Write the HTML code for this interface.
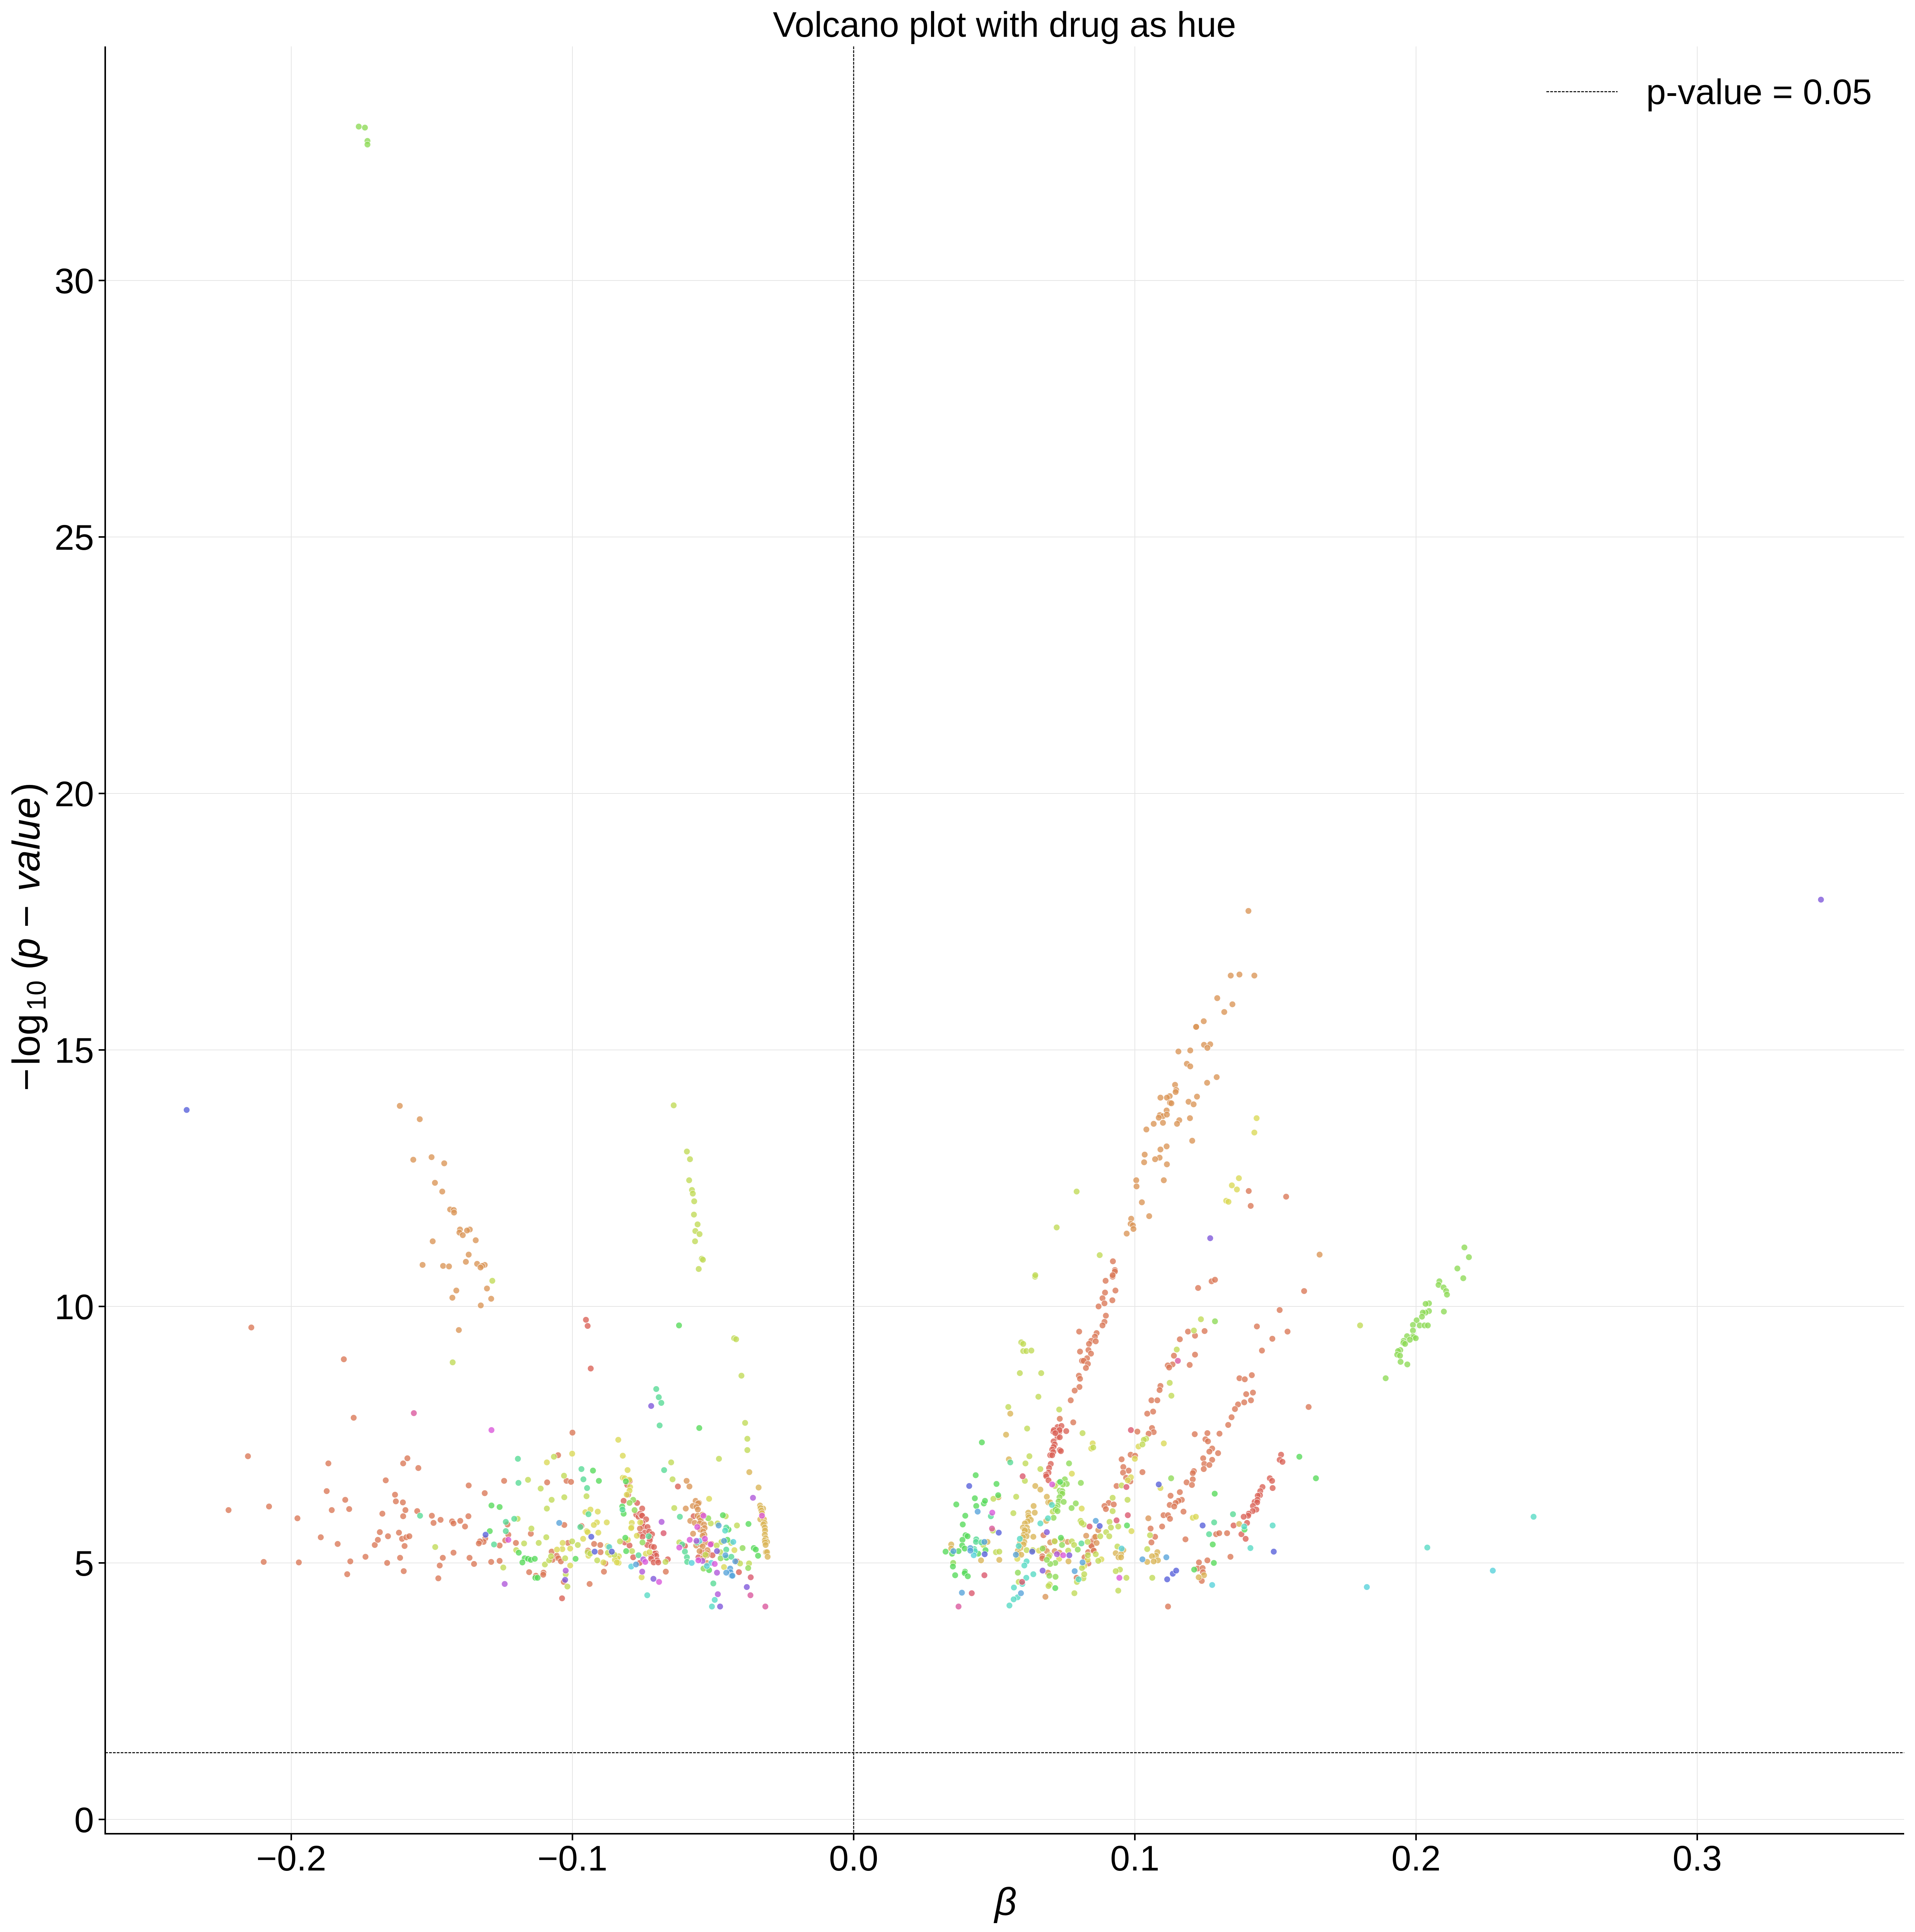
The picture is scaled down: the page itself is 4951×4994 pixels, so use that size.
<!DOCTYPE html>
<html lang="en">
<head>
<meta charset="utf-8">
<title>Volcano plot with drug as hue</title>
<style>
html,body{margin:0;padding:0;background:#fff;}
svg{display:block;font-family:"Liberation Sans",Arial,sans-serif;}
</style>
</head>
<body>
<svg id="chart" xmlns="http://www.w3.org/2000/svg" width="4951" height="4994" viewBox="0 0 4951 4994">
<rect x="0" y="0" width="4951" height="4994" fill="#ffffff"/>
<g id="grid"></g>
<g id="refs"></g>
<g id="points"></g>
<g id="axes"></g>
<text x="2597" y="95" font-size="91.67" text-anchor="middle" fill="#000">Volcano plot with drug as hue</text>
<text x="2600" y="4950" font-size="100" font-style="italic" text-anchor="middle" fill="#000">β</text>
<text transform="translate(102,2822) rotate(-90)" font-size="100" fill="#000"><tspan x="2">−</tspan><tspan x="68">log</tspan><tspan x="210" dy="16" font-size="70">10</tspan><tspan x="315" dy="-16">(</tspan><tspan x="342" font-style="italic">p</tspan><tspan x="424">−</tspan><tspan x="518" font-style="italic" letter-spacing="1">value</tspan><tspan x="766">)</tspan></text>
<g>
<line x1="3998" x2="4182" y1="237" y2="237" stroke="#000" stroke-width="2.5" stroke-dasharray="7 3"/>
<text x="4256" y="269" font-size="91.67" fill="#000">p-value = 0.05</text>
</g>
</svg>
<script>
const xTicks = [-0.2, -0.1, 0.0, 0.1, 0.2, 0.3];
const xTickLabels = ["−0.2", "−0.1", "0.0", "0.1", "0.2", "0.3"];
const yTicks = [0, 5, 10, 15, 20, 25, 30];
const yTickLabels = ["0", "5", "10", "15", "20", "25", "30"];
const pThreshold = 1.30103;
const betaZero = 0;

const drugRed = [[-.0952,9.74],[-.0946,9.62],[-.0935,8.79],[-.1037,4.31],[-.0805,6.52],[-.0796,6.60],[-.0802,6.33],[-.0818,6.21],[-.0770,6.17],[-.0752,6.06],[-.0773,5.94],[-.0765,5.90],[-.0759,5.96],[-.0755,5.93],[-.0752,5.92],[-.0738,5.85],[-.0751,5.78],[-.0748,5.71],[-.0733,5.70],[-.0743,5.59],[-.0727,5.61],[-.0717,5.56],[-.0760,5.56],[-.0751,5.51],[-.0723,5.49],[-.0725,5.44],[-.0734,5.35],[-.0719,5.32],[-.0710,5.31],[-.0814,5.40],[-.0797,5.34],[-.0784,5.11],[-.0704,5.19],[-.0708,5.18],[-.0702,5.14],[-.0720,5.13],[-.0720,5.08],[-.0699,5.05],[-.0711,5.01],[-.0695,5.01],[-.0661,5.07],[-.0761,5.00],[-.0625,6.49],[-.0569,5.91],[-.0538,5.21],[-.0517,5.20],[-.0502,5.15],[-.0552,5.11],[-.0600,5.33],[-.0506,5.37],[-.0415,5.03],[-.0408,4.82],[.0710,7.56],[.0722,7.54],[.0732,7.56],[.0725,7.45],[.0733,7.45],[.0711,7.37],[.0715,7.31],[.0711,7.26],[.0706,7.21],[.0710,7.16],[.0733,7.20],[.0737,7.18],[.0699,7.10],[.0706,7.10],[.0701,6.93],[.0695,6.85],[.0693,6.76],[.0684,6.72],[.0685,6.69],[.0693,6.61],[.0725,7.65],[.0739,7.67],[.0712,7.59],[.0732,7.59],[.0756,7.57],[.0717,7.53],[.1480,6.65],[.1488,6.60],[.1490,6.46],[.1454,6.48],[.1446,6.40],[.1445,6.32],[.1437,6.31],[.1426,6.19],[.1436,6.23],[.1435,6.18],[.1420,6.11],[.1432,6.04],[.1419,6.01],[.1405,5.96],[.1403,5.92],[.1387,5.90],[.1399,5.78],[.1351,5.73],[.1379,5.56],[.1394,5.47],[.1520,7.11],[.1515,7.01],[.1525,6.97]];

const drugSalmon = [[-.2142,9.59],[-.1813,8.97],[-.1778,7.83],[-.2154,7.08],[-.1868,6.94],[-.1874,6.40],[-.1808,6.23],[-.1856,6.03],[-.1794,6.05],[-.2079,6.10],[-.2223,6.03],[-.1978,5.87],[-.1895,5.50],[-.1835,5.37],[-.2098,5.02],[-.1973,5.01],[-.1790,5.03],[-.1801,4.78],[-.1736,5.12],[-.1703,5.35],[-.1692,5.45],[-.1685,5.60],[-.1656,5.52],[-.1617,5.59],[-.1606,5.47],[-.1591,5.50],[-.1580,5.52],[-.1597,5.33],[-.1613,5.10],[-.1659,5.00],[-.1600,4.84],[-.1676,5.96],[-.1602,5.91],[-.1594,6.03],[-.1552,6.01],[-.1603,6.18],[-.1628,6.20],[-.1631,6.33],[-.1664,6.61],[-.1602,6.94],[-.1587,7.04],[-.1548,6.85],[-.1500,5.92],[-.1494,5.78],[-.1469,5.84],[-.1428,5.81],[-.1423,5.77],[-.1399,5.82],[-.1382,5.71],[-.1370,5.91],[-.1369,6.51],[-.1312,6.36],[-.1243,6.60],[-.1423,5.20],[-.1461,5.10],[-.1472,4.95],[-.1477,4.70],[-.1366,5.10],[-.1350,4.98],[-.1289,5.02],[-.1259,5.04],[-.1310,5.48],[-.1316,5.41],[-.1329,5.42],[-.1333,5.38],[-.1259,5.34],[-.1231,5.75],[-.1228,5.55],[-.1239,5.44],[-.1201,5.39],[-.1090,6.57],[-.1021,6.60],[-.1005,6.58],[-.1029,5.74],[-.1148,5.57],[-.1074,5.22],[-.1071,5.06],[-.1056,5.14],[-.1050,5.09],[-.1041,5.03],[-.1016,5.39],[-.1154,4.82],[-.1130,4.75],[-.1103,4.81],[-.1104,4.77],[-.1031,4.63],[-.1000,7.54],[-.1051,7.10],[-.0968,5.72],[-.0923,5.37],[-.0901,5.35],[-.0900,5.21],[-.0945,5.24],[-.0883,4.99],[-.0888,4.83],[-.0939,4.59],[-.0760,5.67],[-.0668,4.83],[.0793,4.71],[.0821,5.11],[.0834,5.21],[.0835,4.99],[.0852,5.24],[.0845,5.34],[.0850,5.43],[.0857,5.50],[.0846,5.33],[.0854,5.24],[.0896,10.50],[.0921,10.58],[.0931,10.31],[.0894,10.27],[.0885,10.16],[.0920,10.12],[.0892,10.06],[.0871,10.00],[.0897,9.82],[.0892,9.70],[.0885,9.63],[.0802,9.51],[.0864,9.48],[.0858,9.41],[.0845,9.33],[.0861,9.32],[.0837,9.27],[.0835,9.15],[.0805,9.12],[.0844,9.08],[.0830,8.99],[.0812,8.94],[.0818,8.94],[.0833,8.88],[.0826,8.80],[.0801,8.65],[.0805,8.59],[.0803,8.43],[.0786,8.36],[.0772,8.17],[.0733,7.81],[.0781,7.74],[.1225,10.36],[.1273,10.49],[.1285,10.52],[.1602,10.30],[.1515,9.93],[.1434,9.61],[.1543,9.51],[.1489,9.37],[.1452,9.14],[.1189,9.51],[.1248,9.52],[.1214,9.43],[.1160,9.36],[.1139,9.04],[.1214,9.06],[.1134,8.87],[.1117,8.85],[.1122,8.81],[.1195,8.86],[.1091,8.45],[.1088,8.37],[.1059,8.17],[.1080,8.17],[.1065,7.95],[.1044,7.91],[.1061,7.63],[.1067,7.55],[.1049,7.52],[.1009,7.56],[.0985,7.11],[.1001,7.09],[.0953,7.02],[.0959,6.87],[.0978,6.80],[.0958,6.76],[.1027,6.77],[.0969,6.66],[.0984,6.59],[.0935,6.50],[.0907,6.17],[.0892,6.11],[.0925,6.14],[.0897,6.05],[.1056,5.67],[.1097,5.71],[.1072,5.51],[.1059,5.40],[.1118,4.15],[.1416,8.66],[.1372,8.60],[.1391,8.58],[.1396,8.29],[.1420,8.32],[.1413,8.17],[.1389,8.13],[.1367,8.09],[.1356,8.00],[.1344,7.84],[.1332,7.69],[.1301,7.52],[.1258,7.53],[.1213,7.51],[.1251,7.41],[.1260,7.37],[.1275,7.23],[.1265,7.17],[.1296,7.14],[.1243,7.04],[.1275,7.01],[.1247,6.93],[.1265,6.91],[.1245,6.83],[.1210,6.79],[.1206,6.75],[.1206,6.63],[.1184,6.57],[.1203,6.52],[.1160,6.38],[.1127,6.31],[.1167,6.23],[.1155,6.21],[.1145,6.17],[.1124,6.13],[.1140,6.10],[.1173,6.00],[.1102,5.93],[.1118,5.93],[.1125,5.86],[.1180,5.46],[.1289,5.56],[.1300,5.58],[.1328,5.58],[.1340,5.12],[.1228,5.01],[.1258,5.05],[.1223,4.89],[.1241,4.90],[.1242,4.82],[.1238,4.65],[.1618,8.04],[.0675,5.54],[.0671,5.13],[.0671,5.09],[.1405,12.25],[.1538,12.14],[.1412,11.96],[.0922,10.88],[.0929,10.71],[.0929,10.68],[.0921,10.61]];

const drugOrange = [[-.1614,13.91],[-.1543,13.65],[-.1566,12.86],[-.1501,12.91],[-.1456,12.79],[-.1489,12.41],[-.1463,12.24],[-.1435,11.89],[-.1422,11.88],[-.1421,11.83],[-.1400,11.50],[-.1365,11.50],[-.1375,11.48],[-.1402,11.44],[-.1390,11.39],[-.1344,11.29],[-.1497,11.27],[-.1369,11.01],[-.1379,10.87],[-.1533,10.81],[-.1460,10.79],[-.1439,10.78],[-.1339,10.83],[-.1312,10.81],[-.1321,10.79],[-.1327,10.76],[-.1304,10.35],[-.1413,10.31],[-.1427,10.17],[-.1289,10.15],[-.1326,10.02],[-.1404,9.54],[-.0594,6.60],[-.0584,6.49],[-.0597,6.06],[-.0562,6.21],[-.0550,6.17],[-.0553,6.16],[-.0572,6.11],[-.0559,6.09],[-.0554,6.04],[-.0555,5.92],[-.0538,5.94],[-.0548,5.88],[-.0544,5.83],[-.0581,5.82],[-.0565,5.78],[-.0547,5.77],[-.0532,5.75],[-.0530,5.68],[-.0546,5.65],[-.0535,5.61],[-.0571,5.57],[-.0531,5.55],[-.0537,5.53],[-.0560,5.34],[-.0545,5.36],[-.0527,5.40],[-.0537,5.32],[-.0548,5.23],[-.0520,5.25],[-.0521,5.19],[-.0522,5.15],[-.0535,5.10],[-.0522,5.00],[.1404,17.71],[.1341,16.45],[.1372,16.47],[.1425,16.45],[.1293,16.01],[.1347,15.89],[.1318,15.74],[.1245,15.56],[.1218,15.45],[.1218,15.45],[.1246,15.10],[.1268,15.11],[.1258,15.04],[.1197,14.99],[.1155,14.97],[.1185,14.73],[.1197,14.68],[.1291,14.47],[.1257,14.36],[.1143,14.32],[.1147,14.22],[.1145,14.18],[.1221,14.09],[.1124,14.10],[.1114,14.07],[.1091,14.07],[.1125,13.97],[.1130,13.96],[.1191,13.99],[.1209,13.94],[.1113,13.82],[.1089,13.73],[.1100,13.71],[.1114,13.74],[.1085,13.68],[.1196,13.67],[.1158,13.63],[.1150,13.56],[.1100,13.58],[.1067,13.56],[.1041,13.45],[.1204,13.23],[.1113,13.12],[.1091,13.06],[.1088,12.90],[.1072,12.87],[.1035,12.96],[.1033,12.81],[.1114,12.77],[.1103,12.46],[.1005,12.46],[.1006,12.34],[.1025,12.03],[.1051,11.76],[.0987,11.71],[.0985,11.61],[.0993,11.58],[.0995,11.51],[.0971,11.42],[.1657,11.01],[.0691,4.81],[.0682,4.34],[.0699,5.40],[.0714,5.43],[.0761,5.41],[.0678,5.29],[.0687,5.23],[.0715,5.23],[.0732,5.20],[.0827,5.53],[.0870,5.64],[.0860,5.51],[.0864,5.39],[.1048,5.87]];

const drugGold = [[-.0371,6.77],[-.0338,6.47],[-.0333,6.12],[-.0322,6.06],[-.0331,6.07],[-.0328,6.02],[-.0326,5.97],[-.0332,5.85],[-.0319,5.85],[-.0317,5.78],[-.0321,5.75],[-.0316,5.69],[-.0315,5.63],[-.0316,5.55],[-.0313,5.48],[-.0316,5.44],[-.0308,5.41],[-.0315,5.40],[-.0313,5.35],[-.0312,5.21],[-.0308,5.21],[-.0306,5.12],[.0542,7.50],[.0515,6.28],[.0476,5.41],[.0347,5.36],[.0347,5.28],[.0453,5.05],[.0518,5.06],[.0552,7.02],[.0557,7.91],[.0646,6.50],[.0664,6.43],[.0640,6.11],[.0644,5.98],[.0621,5.98],[.0621,5.92],[.0623,5.89],[.0630,5.84],[.0619,5.81],[.0609,5.77],[.0602,5.69],[.0616,5.69],[.0607,5.65],[.0619,5.62],[.0609,5.63],[.0605,5.55],[.0615,5.52],[.0602,5.50],[.0639,5.51],[.0607,5.41],[.0591,5.38],[.0604,5.36],[.0593,5.29],[.0584,5.24],[.0584,5.18],[.0596,5.16],[.0685,5.82],[.0741,5.45],[.0764,5.03],[.0687,6.29],[.0692,6.18],[.0699,6.18],[.0959,5.25],[.0932,5.19],[.0951,5.17],[.0942,5.11],[.0951,5.11],[.1080,5.21],[.1075,5.14],[.1061,5.13],[.1082,5.05],[.1067,5.03],[.1044,5.02],[.1371,5.76],[.1246,4.76],[.1227,4.72]];

const drugYellow = [[-.0954,5.99],[-.0936,6.04],[-.0910,6.00],[-.0913,5.79],[-.0924,5.74],[-.0878,5.79],[-.0949,5.62],[-.0946,5.60],[-.0908,5.59],[-.0962,5.47],[-.0943,5.14],[-.0875,5.33],[-.0866,5.16],[-.0835,5.13],[-.0840,5.09],[-.0849,5.06],[-.0836,5.00],[-.0842,5.01],[-.0890,5.01],[-.0821,7.09],[-.0804,6.81],[-.0821,6.66],[-.0814,6.65],[-.0798,6.62],[-.0795,6.48],[-.0797,6.41],[-.0807,6.33],[-.0759,5.79],[-.0789,5.78],[-.0790,5.70],[-.0791,5.68],[-.0771,5.53],[-.0803,5.45],[-.0739,5.18],[-.0726,5.21],[-.0754,4.72],[-.0514,6.25],[-.0424,5.25],[-.0461,4.92],[-.1001,7.13],[-.1091,6.96],[-.0837,7.40],[-.1008,5.28],[-.1036,5.27],[-.1055,5.26],[-.1035,5.39],[-.1008,4.95],[.0582,5.08],[.0659,5.24],[.0731,5.08],[.0776,6.74],[.0811,6.06],[.0850,7.33],[.0845,7.23],[.0820,4.94],[.0832,5.06],[.0881,5.07],[.1013,7.27],[.1103,7.33],[.1000,7.03],[.0986,6.67],[.0975,6.61],[.0988,5.62],[.1091,6.46],[.1206,5.88],[.1217,5.90],[.1433,13.67],[.1425,13.39],[.1370,12.50],[.1345,12.36],[.1363,12.28],[.1325,12.06],[.1333,12.04]];

const drugLime = [[-.0640,13.92],[-.0593,13.02],[-.0582,12.87],[-.0585,12.46],[-.0575,12.27],[-.0572,12.20],[-.0567,12.05],[-.0568,11.79],[-.0555,11.60],[-.0563,11.47],[-.0548,11.41],[-.0564,11.27],[-.0540,10.93],[-.0536,10.91],[-.0551,10.73],[-.0425,9.38],[-.0418,9.36],[-.0399,8.65],[-.0386,7.73],[-.0378,7.42],[-.0378,7.20],[-.1285,10.50],[-.1426,8.91],[-.1066,7.07],[-.1488,5.31],[-.1246,4.91],[-.1172,5.38],[-.1200,5.25],[-.1195,5.86],[-.1158,6.62],[-.1113,6.45],[-.1030,6.70],[-.1074,6.23],[-.1029,6.28],[-.1091,6.06],[-.1146,5.67],[-.1093,5.50],[-.1120,5.39],[-.1098,4.97],[-.1083,5.05],[-.1076,5.13],[-.1001,5.42],[-.1026,5.09],[-.0981,5.35],[-.1024,4.78],[-.1018,4.54],[-.0950,6.30],[-.0946,5.21],[-.0937,5.18],[-.0872,5.31],[-.0874,5.20],[-.0851,5.16],[-.0912,5.05],[-.0831,5.42],[-.0788,5.23],[-.0669,5.02],[-.0649,6.96],[-.0644,6.63],[-.0638,6.07],[-.0620,5.40],[-.0527,5.16],[-.0508,5.77],[-.0484,5.77],[-.0455,5.91],[-.0415,5.73],[-.0470,5.41],[-.0436,5.39],[-.0487,5.34],[-.0474,5.21],[-.0404,4.99],[-.0372,4.99],[-.0479,7.03],[.0497,6.25],[.0495,5.63],[.0461,5.35],[.0506,5.21],[.0518,5.22],[.0625,7.08],[.0611,6.94],[.0664,6.83],[.0609,6.60],[.0578,6.29],[.0568,5.97],[.0615,5.25],[.0637,5.25],[.0587,4.63],[.0715,5.42],[.0776,5.42],[.0784,5.35],[.0832,5.41],[.0763,5.24],[.0697,5.15],[.0694,5.12],[.0697,4.58],[.0693,4.55],[.0785,4.41],[.0794,4.63],[.0817,4.70],[.0820,4.78],[.0812,4.90],[.0833,5.15],[.0807,5.82],[.0818,5.75],[.0811,5.78],[.0729,6.56],[.0716,6.50],[.0708,6.00],[.0814,7.53],[.0852,7.25],[.0645,10.58],[.0596,9.30],[.0603,9.27],[.0603,9.13],[.0614,9.13],[.0632,9.14],[.0591,8.70],[.0667,8.70],[.0657,8.24],[.0550,8.04],[.0617,7.62],[.0731,7.99],[.1235,9.75],[.1210,9.53],[.1149,9.16],[.1124,8.51],[.1130,8.26],[.1040,7.42],[.1032,7.40],[.1027,7.31],[.0953,6.51],[.0921,6.27],[.0974,6.23],[.0921,6.01],[.0910,5.80],[.0915,5.69],[.0941,5.71],[.0898,5.60],[.0877,5.52],[.0909,5.52],[.0861,5.17],[.0870,5.04],[.0938,5.32],[.0947,4.87],[.0932,4.84],[.0970,4.71],[.0941,4.46],[.1054,5.54],[.1044,5.27],[.1062,4.71],[.0793,12.24],[.0722,11.54],[.0875,11.00],[.0646,10.61],[.1801,9.63]];

const drugLeaf = [[-.1760,33.00],[-.1738,32.98],[-.1729,32.72],[-.1729,32.65],[-.0784,6.23],[-.0797,6.17],[-.0779,6.03],[-.0751,5.40],[-.0517,5.87],[-.0473,5.09],[-.0534,4.89],[-.0395,5.29],[-.0375,4.90],[.0354,5.00],[.0584,4.81],[.0711,5.88],[.0741,5.35],[.0797,5.26],[.0672,5.28],[.0717,5.00],[.0699,4.98],[.0687,5.06],[.0696,4.75],[.0718,4.73],[.0751,6.63],[.0758,6.54],[.0744,6.53],[.0733,6.41],[.0742,6.40],[.0737,6.36],[.0742,6.35],[.0732,6.28],[.0729,6.20],[.0747,6.19],[.0725,6.11],[.0719,6.08],[.0718,6.04],[.0725,6.01],[.0790,6.16],[.0775,6.07],[.0766,6.94],[.0808,6.56],[.1129,6.65],[.1285,9.71],[.2172,11.15],[.2188,10.96],[.2147,10.74],[.2168,10.55],[.2083,10.49],[.2080,10.42],[.2098,10.37],[.2107,10.30],[.2110,10.23],[.2046,10.06],[.2034,10.05],[.2046,9.91],[.2034,9.88],[.2024,9.88],[.2099,9.90],[.2021,9.80],[.2002,9.73],[.1989,9.64],[.2013,9.63],[.2030,9.63],[.2042,9.63],[.1989,9.53],[.1989,9.42],[.1992,9.40],[.1999,9.38],[.1968,9.42],[.1978,9.35],[.1956,9.33],[.1955,9.29],[.1961,9.27],[.1944,9.15],[.1936,9.13],[.1933,9.06],[.1943,9.04],[.1945,8.92],[.1969,8.87],[.1892,8.60]];

const drugGreen = [[-.0621,9.63],[-.0549,7.63],[-.1288,6.12],[-.1259,6.09],[-.1294,5.62],[-.1191,5.20],[-.1170,5.09],[-.1158,5.08],[-.1148,5.06],[-.1134,5.08],[-.1178,5.01],[-.1132,4.71],[-.1124,4.71],[-.0989,5.08],[-.0927,6.80],[-.0906,6.60],[-.0810,6.59],[-.0823,6.10],[-.0818,5.96],[-.0812,5.49],[-.0809,5.23],[-.0514,4.86],[-.0465,5.93],[-.0374,5.76],[-.0445,5.65],[-.0449,5.45],[-.0452,5.10],[-.0355,5.29],[-.0348,5.26],[-.0340,5.14],[.0456,7.35],[.0434,6.71],[.0508,6.54],[.0431,6.26],[.0365,6.14],[.0436,6.11],[.0463,6.16],[.0467,6.21],[.0514,6.32],[.0397,5.92],[.0388,5.75],[.0398,5.54],[.0405,5.52],[.0387,5.45],[.0386,5.34],[.0395,5.28],[.0327,5.22],[.0350,5.18],[.0373,5.23],[.0353,4.93],[.0396,4.83],[.0395,4.80],[.0361,4.76],[.0406,4.74],[.0443,5.18],[.0469,5.25],[.0737,5.49],[.0734,6.58],[.0717,4.51],[.0972,5.73],[.1281,5.00],[.1211,4.87],[.1284,6.35],[.1277,5.36],[.1585,7.07],[.1644,6.65],[.1390,5.65]];

const drugMint = [[-.1542,5.92],[-.1279,5.36],[-.1237,5.80],[-.1237,5.62],[-.1207,5.86],[-.1194,7.03],[-.1192,6.56],[-.0968,6.83],[-.0961,6.63],[-.0948,6.46],[-.0943,5.95],[-.0972,5.70],[-.0702,8.39],[-.0693,8.23],[-.0684,8.12],[-.0690,7.68],[-.0822,6.04],[-.0765,5.15],[-.0674,6.81],[-.0618,5.90],[-.0729,5.52],[-.0557,5.40],[-.0610,5.36],[-.0600,5.22],[-.0593,5.11],[-.0592,5.02],[-.0453,5.69],[-.0453,5.26],[-.0435,5.12],[-.0499,4.60],[.0557,6.96],[.0488,5.91],[.0436,5.46],[.0435,5.41],[.0454,5.40],[.0429,5.27],[.0810,5.38],[.1264,5.56],[.1349,5.95],[.1282,5.79]];

const drugTeal = [[-.0734,4.37],[-.0494,4.28],[-.0504,4.15],[-.0457,5.63],[.0431,5.23],[.0591,5.47],[.0587,5.33],[.0615,5.03],[.0607,4.95],[.0639,4.78],[.0614,4.71],[.0600,4.59],[.0570,4.52],[.0583,4.33],[.0569,4.29],[.0554,4.17],[.0664,5.77],[.0691,5.87],[.0705,6.13],[.0800,4.68],[.1389,5.71],[.1490,5.73],[.1411,5.29],[.2040,5.30],[.2418,5.90]];

const drugCyan = [[-.0869,5.31],[-.0791,4.93],[-.0576,5.00],[-.0548,5.43],[-.0506,5.00],[-.0522,4.94],[-.0428,5.41],[.0427,5.15],[.0953,5.28],[.1275,4.57],[.1825,4.53],[.2273,4.85]];

const drugBlue = [[-.1047,5.78],[-.0774,4.97],[-.0480,5.73],[-.0461,5.43],[-.0456,5.15],[-.0421,5.03],[-.0439,4.89],[-.0438,4.82],[-.0453,4.81],[-.0434,4.75],[-.0431,4.75],[.0441,6.00],[.0355,5.23],[.0415,5.29],[.0415,5.24],[.0465,5.41],[.0385,4.42],[.0577,5.16],[.0595,4.41],[.0786,4.84],[.0814,5.01],[.0861,5.82],[.1027,5.07],[.1112,5.11]];

const drugIndigo = [[-.2372,13.83],[-.1309,5.55],[-.0933,5.51],[-.0921,5.22],[-.0860,5.22],[.0411,6.50],[.0516,5.59],[.0466,5.17],[.0635,5.22],[.0875,5.72],[.1085,6.53],[.1115,4.68],[.1135,4.79],[.1147,4.85],[.1241,5.73],[.1494,5.22]];

const drugViolet = [[.3440,17.93],[-.0720,8.06],[-.1026,4.67],[-.0712,4.69],[-.0486,5.23],[-.0380,4.53],[-.0475,4.15],[.0687,5.60],[.0672,4.85],[.0767,5.15],[.1268,11.33]];

const drugPurple = [[-.1241,4.59],[-.1024,4.85],[-.0752,4.83],[-.0748,5.07],[-.0683,5.80],[-.0559,5.43],[-.0538,5.04],[-.0486,4.81],[-.0483,4.39],[-.0358,6.27],[.0723,5.17]];

const drugMagenta = [[-.1288,7.59],[-.1228,5.45],[-.0741,5.02],[-.0692,4.63],[-.0534,5.92],[-.0556,5.70],[-.0529,5.47],[-.0583,5.45],[-.0509,5.36],[-.0620,5.30],[-.0552,5.05],[-.0494,4.98],[-.0326,5.92],[.0493,5.98],[.0706,6.53],[.0745,5.15],[.0945,4.71]];

const drugPink = [[-.1564,7.92],[-.0367,4.37],[-.0314,4.15],[.0492,5.67],[.0373,4.15],[.1153,8.94]];

const drugRose = [[-.0676,5.58],[-.0366,4.72],[.0465,4.76],[.0420,4.41],[.0601,6.69],[.0599,4.63],[.0839,5.71],[.0970,6.48],[.0975,5.93],[.0935,5.83],[.0986,7.59]];

const drugSeries = [drugRed, drugSalmon, drugOrange, drugGold, drugYellow, drugLime, drugLeaf, drugGreen, drugMint, drugTeal, drugCyan, drugBlue, drugIndigo, drugViolet, drugPurple, drugMagenta, drugPink, drugRose];
const drugNames = ["red", "salmon", "orange", "gold", "yellow", "lime", "leaf", "green", "mint", "teal", "cyan", "blue", "indigo", "violet", "purple", "magenta", "pink", "rose"];
const drugHues = [5, 15, 28, 43, 59, 72, 95, 122, 148, 170, 184, 205, 236, 258, 280, 300, 328, 350];

const SVG_NS = "http://www.w3.org/2000/svg";
const plotLeft = 272, plotRight = 4923, plotTop = 120, plotBottom = 4740;
function xScale(beta) { return 2207 + beta * 7270; }
function yScale(value) { return 4703 - value * 132.6; }
function make(tag, attrs, parent) {
  const el = document.createElementNS(SVG_NS, tag);
  for (const k in attrs) el.setAttribute(k, attrs[k]);
  parent.appendChild(el);
  return el;
}
const gridGroup = document.getElementById("grid");
const axesGroup = document.getElementById("axes");
const refsGroup = document.getElementById("refs");
const pointsGroup = document.getElementById("points");

xTicks.forEach(function (t, i) {
  const px = xScale(t);
  const g = make("line", {x1: px, x2: px, y1: plotTop, y2: plotBottom, stroke: "#e6e6e6", "stroke-width": 2}, gridGroup);
  
  
  const tick = make("line", {x1: px, x2: px, y1: plotBottom, y2: plotBottom + 17, stroke: "#000", "stroke-width": 4}, axesGroup);
  
  
  const label = make("text", {x: px, y: 4835, "font-size": 91.67, "text-anchor": "middle", fill: "#000"}, axesGroup);
  
  
  label.textContent = xTickLabels[i];
});
yTicks.forEach(function (t, i) {
  const py = yScale(t);
  const g = make("line", {x1: plotLeft, x2: plotRight, y1: py, y2: py, stroke: "#e6e6e6", "stroke-width": 2}, gridGroup);
  
  
  const tick = make("line", {x1: plotLeft - 17, x2: plotLeft, y1: py, y2: py, stroke: "#000", "stroke-width": 4}, axesGroup);
  
  
  const label = make("text", {x: 243, y: py + 33, "font-size": 91.67, "text-anchor": "end", fill: "#000"}, axesGroup);
  
  
  label.textContent = yTickLabels[i];
});

const hRef = make("line", {x1: plotLeft, x2: plotRight, y1: yScale(pThreshold), y2: yScale(pThreshold), stroke: "#000", "stroke-width": 2.5, "stroke-dasharray": "7 3"}, refsGroup);


const vRef = make("line", {x1: xScale(betaZero), x2: xScale(betaZero), y1: plotTop, y2: plotBottom, stroke: "#000", "stroke-width": 2.5, "stroke-dasharray": "7 3"}, refsGroup);



drugSeries.forEach(function (series, s) {
  const group = make("g", {}, pointsGroup);
  
  
  series.forEach(function (pt) {
    const c = make("circle", {cx: xScale(pt[0]), cy: yScale(pt[1]), r: 8.3, fill: "hsl(" + drugHues[s] + ",65%,60%)", stroke: "#fff", "stroke-width": 1.3, opacity: 0.78}, group);
    
    
  });
});

const spineLeft = make("line", {x1: plotLeft, x2: plotLeft, y1: plotTop, y2: plotBottom + 2, stroke: "#000", "stroke-width": 4}, axesGroup);


const spineBottom = make("line", {x1: plotLeft - 2, x2: plotRight, y1: plotBottom, y2: plotBottom, stroke: "#000", "stroke-width": 4}, axesGroup);


</script>
</body>
</html>
